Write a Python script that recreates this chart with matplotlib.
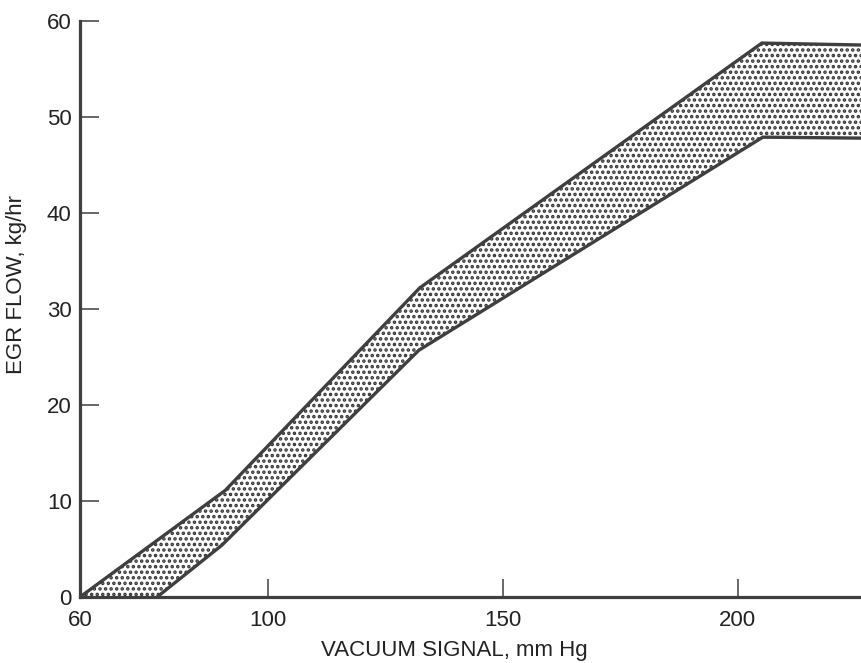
import matplotlib
matplotlib.use("Agg")
import matplotlib.pyplot as plt

# band edges (vacuum signal mm Hg, EGR flow kg/hr)
upper_x = [60.0, 90.9, 132.3, 205.1, 226.2]
upper_y = [0.0, 11.1, 32.2, 57.7, 57.5]
lower_x = [76.4, 90.2, 132.1, 205.3, 226.2]
lower_y = [0.0, 5.4, 25.7, 47.9, 47.8]

x_ticks = [60, 100, 150, 200]
y_ticks = [0, 10, 20, 30, 40, 50, 60]

plt.rcParams["font.family"] = ["Liberation Sans", "DejaVu Sans"]
plt.rcParams["hatch.color"] = "#333333"
plt.rcParams["hatch.linewidth"] = 1.7

ink = "#3f3f3f"
fig = plt.figure(figsize=(8.61, 6.63), dpi=100)
ax = fig.add_axes([80 / 861, 1 - 597 / 663, 1 - 80 / 861, (597 - 21) / 663])

# band polygon: upper edge forward, lower edge back
poly_x = upper_x + lower_x[::-1]
poly_y = upper_y + lower_y[::-1]
ax.fill(poly_x, poly_y, facecolor="white", edgecolor="#333333", hatch="...", lw=0)
ax.plot(upper_x, upper_y, color=ink, lw=2.4, solid_joinstyle="miter")
ax.plot(lower_x, lower_y, color=ink, lw=2.4, solid_joinstyle="miter")

ax.set_xlim(60, 226.2)
ax.set_ylim(0, 60)
ax.set_xticks(x_ticks)
ax.set_yticks(y_ticks)
ax.spines[["top", "right"]].set_visible(False)
for s in ("left", "bottom"):
    ax.spines[s].set_linewidth(2.3)
    ax.spines[s].set_color(ink)
ax.tick_params(axis="x", direction="in", length=13, width=1.1, colors=ink,
               pad=9, labelsize=16, labelcolor="#222222")
ax.tick_params(axis="y", direction="in", length=14, width=1.1, colors=ink,
               pad=6, labelsize=16, labelcolor="#222222")

ax.set_xlabel("VACUUM SIGNAL, mm Hg", fontsize=16, color="#222222")
ax.set_ylabel("EGR FLOW, kg/hr", fontsize=16, color="#222222")
ax.xaxis.set_label_coords((454 - 80) / 781, -(640 - 597) / 576)
ax.yaxis.set_label_coords(-(80 - 27) / 781, (597 - 285) / 576)

fig.savefig("out.png", dpi=100)
